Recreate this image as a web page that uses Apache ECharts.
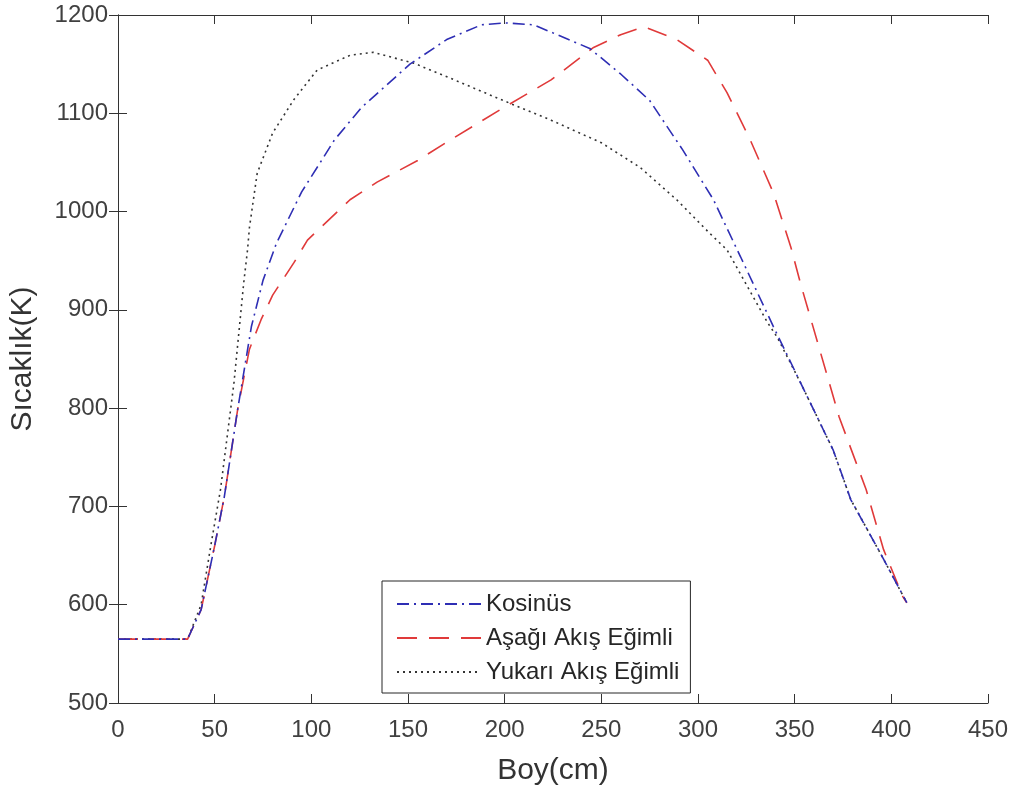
<!DOCTYPE html>
<html>
<head>
<meta charset="utf-8">
<script src="https://cdn.jsdelivr.net/npm/echarts@6/dist/echarts.min.js"></script>
<style>
  html, body { margin: 0; padding: 0; background: #fff; }
  #chart { width: 1015px; height: 798px; }
</style>
</head>
<body>
<div id="chart"></div>
<script>
// values, [Boy (cm), Sıcaklık (K)]
const seriesNames = ['Kosinüs', 'Aşağı Akış Eğimli', 'Yukarı Akış Eğimli']

const kosinus = [
  [0, 565], [36, 565], [43, 595], [50, 660], [55, 710], [62, 800], [69, 883], [75, 930],
  [82, 968], [95, 1020], [112, 1073], [126, 1106], [151, 1150], [170, 1175], [188, 1190],
  [200, 1192], [215, 1190], [244, 1166], [260, 1140], [275, 1113], [292, 1063], [308, 1012],
  [322, 954], [339, 883], [353, 826], [370, 757], [379, 707], [395, 650], [408, 602]
]

const asagiAkis = [
  [0, 565], [36, 565], [43, 595], [50, 660], [55, 710], [62, 800], [68, 860], [74, 890],
  [80, 915], [91, 948], [98, 971], [120, 1012], [134, 1030], [155, 1052], [172, 1073],
  [198, 1104], [224, 1134], [246, 1167], [260, 1180], [272, 1188], [289, 1175], [305, 1154],
  [315, 1121], [327, 1073], [339, 1019], [348, 964], [353, 927], [363, 859], [373, 791],
  [387, 717], [396, 656], [406, 608], [408, 602]
]

const yukariAkis = [
  [0, 565], [36, 565], [43, 600], [48, 660], [53, 717], [60, 826], [65, 927], [67, 961],
  [68, 984], [72, 1039], [80, 1080], [91, 1114], [103, 1144], [120, 1159], [132, 1162],
  [153, 1151], [174, 1134], [198, 1114], [224, 1093], [250, 1070], [270, 1045], [289, 1012],
  [306, 978], [315, 961], [336, 887], [341, 872], [353, 826], [370, 757], [379, 707],
  [395, 650], [408, 602]
]

const xAxisName = 'Boy(cm)'
const yAxisName = 'Sıcaklık(K)'

const chart = echarts.init(document.getElementById('chart'))

const axisColor = '#333333'
const fontFamily = '"Liberation Sans", Arial, sans-serif'

const baseAxis = {
  type: 'value',
  axisLine: { show: true, lineStyle: { color: axisColor, width: 1 } },
  axisTick: { show: true, inside: true, length: 9, lineStyle: { color: axisColor } },
  splitLine: { show: false }
}

const option = {
  animation: false,
  backgroundColor: '#ffffff',
  grid: { left: 117, right: 27, top: 15, bottom: 95 },
  legend: {
    orient: 'vertical',
    left: 382,
    top: 581,
    padding: [11, 11, 9, 14],
    itemGap: 10,
    itemWidth: 84,
    itemHeight: 14,
    borderColor: '#262626',
    borderWidth: 1,
    backgroundColor: '#ffffff',
    itemStyle: { opacity: 0, borderWidth: 0 },
    textStyle: { fontFamily, fontSize: 24, color: '#262626', lineHeight: 24 },
    data: seriesNames
  },
  xAxis: [
    {
      ...baseAxis,
      position: 'bottom',
      min: 0, max: 450, interval: 50,
      name: xAxisName,
      nameLocation: 'middle',
      nameGap: 53,
      nameTextStyle: { fontFamily, fontSize: 30, color: '#333' },
      axisLabel: { fontFamily, fontSize: 24, color: '#404040', margin: 15, formatter: (v) => String(v) }
    },
    {
      ...baseAxis,
      position: 'top',
      min: 0, max: 450, interval: 50,
      axisLabel: { show: false }
    }
  ],
  yAxis: [
    {
      ...baseAxis,
      position: 'left',
      min: 500, max: 1200, interval: 100,
      name: yAxisName,
      nameLocation: 'middle',
      nameGap: 80,
      nameTextStyle: { fontFamily, fontSize: 30, color: '#333' },
      axisLabel: { fontFamily, fontSize: 24, color: '#404040', margin: 10, formatter: (v) => String(v) }
    },
    {
      ...baseAxis,
      position: 'right',
      min: 500, max: 1200, interval: 100,
      axisLabel: { show: false }
    }
  ],
  series: [
    {
      name: seriesNames[0],
      type: 'line',
      data: kosinus,
      symbol: 'none',
      z: 3,
      lineStyle: { color: '#2e2eb4', width: 1.6, type: [12, 5, 2, 5] },
      itemStyle: { color: '#2e2eb4' }
    },
    {
      name: seriesNames[1],
      type: 'line',
      data: asagiAkis,
      symbol: 'none',
      z: 2,
      lineStyle: { color: '#e03a3a', width: 1.6, type: [20, 12] },
      itemStyle: { color: '#e03a3a' }
    },
    {
      name: seriesNames[2],
      type: 'line',
      data: yukariAkis,
      symbol: 'none',
      z: 1,
      lineStyle: { color: '#333333', width: 1.6, type: [2, 4] },
      itemStyle: { color: '#333333' }
    }
  ]
}

chart.setOption(option)
</script>
</body>
</html>
